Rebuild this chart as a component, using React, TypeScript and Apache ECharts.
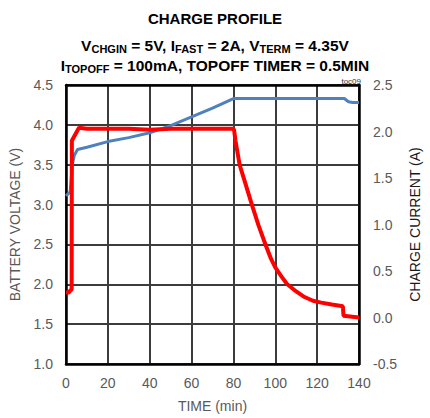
import React, { useEffect, useRef } from "react";
import * as echarts from "echarts";

const timeTicks = [0, 20, 40, 60, 80, 100, 120, 140];

const voltageTime = [0, 2, 3, 4, 5.5, 10, 20, 30, 40, 50, 60, 70, 80, 90, 100, 110, 120, 130, 133, 135, 137, 140];
const voltageValues = [3.11, 3.16, 3.5, 3.62, 3.69, 3.72, 3.79, 3.84, 3.9, 3.99, 4.1, 4.21, 4.33, 4.33, 4.33, 4.33, 4.33, 4.33, 4.33, 4.29, 4.28, 4.28];

const currentTime = [0, 1.5, 2, 2.7, 2.8, 3.5, 6.2, 10, 20, 30, 40, 50, 60, 70, 79.8, 80.3, 81, 83, 86, 89, 92, 95.4, 98, 100, 103, 105.6, 110, 114, 118, 122, 127, 132.3, 132.6, 140];
const currentValues = [0.27, 0.27, 0.29, 0.3, 1.9, 1.93, 2.04, 2.03, 2.03, 2.03, 2.02, 2.03, 2.03, 2.03, 2.03, 2.02, 1.9, 1.64, 1.42, 1.2, 0.99, 0.78, 0.63, 0.54, 0.44, 0.36, 0.28, 0.22, 0.18, 0.16, 0.14, 0.12, 0.02, 0.0];

const titleLine1 = "CHARGE PROFILE";
const titleLine2 = "V{s|CHGIN} = 5V, I{s|FAST} = 2A, V{s|TERM} = 4.35V";
const titleLine3 = "I{s|TOPOFF} = 100mA, TOPOFF TIMER = 0.5MIN";

export default function App() {
  const ref = useRef<HTMLDivElement>(null);
  useEffect(() => {
    if (!ref.current) return;
    const chart = echarts.init(ref.current, null, { renderer: "svg" });
    const font = "Liberation Sans, Arial, sans-serif";
    const rich = {
      m: { fontSize: 15.5, fontWeight: "bold", fontFamily: font, color: "#000", lineHeight: 20 },
      s: { fontSize: 11, fontWeight: "bold", fontFamily: font, color: "#000", lineHeight: 20, padding: [8, 0, 0, 0] },
    };
    const wrap = (t: string) => t.replace(/(^|\})([^{]+)/g, (_m, p, q) => p + "{m|" + q + "}");
    const border = () => ({ show: true, onZero: false, lineStyle: { color: "#000", width: 2.5 } });
    const gridLine = () => ({ show: true, lineStyle: { color: "#3c3c3c", width: 2, type: "solid" } });
    chart.setOption({
      animation: false,
      title: [
        { text: titleLine1, left: "center", top: 6, textStyle: { fontSize: 15, fontWeight: "bold", fontFamily: font, color: "#000" } },
        { text: wrap(titleLine2), left: "center", top: 30, textStyle: { rich } },
        { text: wrap(titleLine3), left: "center", top: 50, textStyle: { rich } },
        { text: "toc09", right: 64, top: 72, textStyle: { fontSize: 8, fontWeight: "normal", fontFamily: font, color: "#333" } },
      ],
      grid: { left: 65, right: 67, top: 85, bottom: 51 },
      xAxis: [
        {
          type: "value",
          min: 0,
          max: 140,
          interval: 20,
          name: "TIME (min)",
          nameLocation: "middle",
          nameGap: 35,
          nameTextStyle: { fontSize: 14, color: "#595959", fontFamily: font },
          axisLine: border(),
          axisTick: { show: false },
          axisLabel: { fontSize: 14, color: "#595959", fontFamily: font, margin: 12 },
          splitLine: gridLine(),
        },
        {
          type: "value",
          position: "top",
          min: 0,
          max: 140,
          interval: 20,
          axisLine: border(),
          axisTick: { show: false },
          axisLabel: { show: false },
          splitLine: { show: false },
        },
      ],
      yAxis: [
        {
          type: "value",
          min: 1,
          max: 4.5,
          interval: 0.5,
          name: "BATTERY VOLTAGE (V)",
          nameLocation: "middle",
          nameGap: 44,
          nameTextStyle: { fontSize: 14, color: "#595959", fontFamily: font },
          axisLine: border(),
          axisTick: { show: false },
          axisLabel: { fontSize: 14, color: "#595959", fontFamily: font, margin: 13, formatter: (v: number) => v.toFixed(1) },
          splitLine: gridLine(),
        },
        {
          type: "value",
          min: -0.5,
          max: 2.5,
          interval: 0.5,
          name: "CHARGE CURRENT (A)",
          nameLocation: "middle",
          nameGap: 47,
          nameRotate: 90,
          nameTextStyle: { fontSize: 14, color: "#1a1a1a", fontFamily: font },
          axisLine: border(),
          axisTick: { show: false },
          axisLabel: { fontSize: 14, color: "#595959", fontFamily: font, margin: 14, formatter: (v: number) => v.toFixed(1) },
          splitLine: { show: false },
        },
      ],
      series: [
        {
          type: "line",
          yAxisIndex: 0,
          data: voltageTime.map((t, i) => [t, voltageValues[i]]),
          showSymbol: false,
          lineStyle: { color: "#4F81BD", width: 3 },
          z: 3,
        },
        {
          type: "line",
          yAxisIndex: 1,
          data: currentTime.map((t, i) => [t, currentValues[i]]),
          showSymbol: false,
          lineStyle: { color: "#FF0000", width: 4 },
          z: 4,
        },
      ],
    });
    return () => chart.dispose();
  }, []);
  return <div ref={ref} style={{ width: 430, height: 418, position: "absolute", left: 0, top: 0 }} />;
}
